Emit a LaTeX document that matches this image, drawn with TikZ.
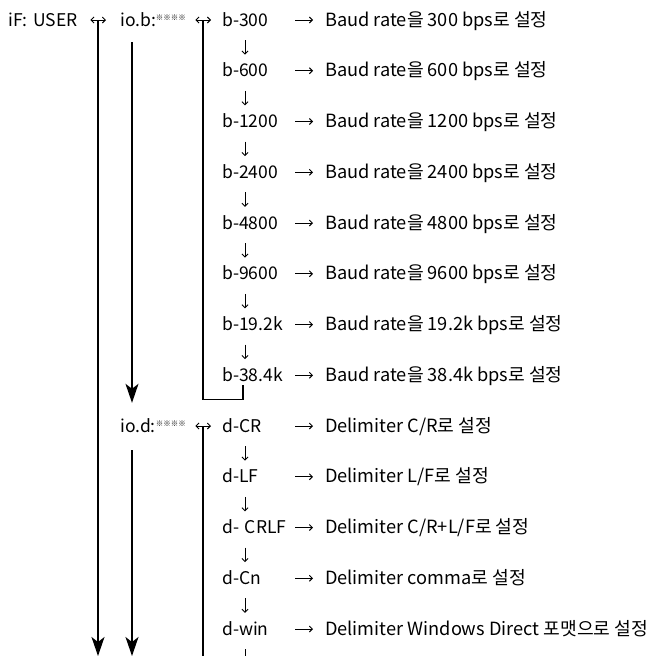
\documentclass[tikz,border=0pt]{standalone}
\usepackage{fontspec}
\setmainfont{Noto Sans CJK KR}
\usetikzlibrary{arrows.meta,calc}

\tikzset{
  lbl/.style={anchor=west, inner sep=0pt, text height=12pt, text depth=0pt,
              font=\fontsize{17.5}{20}\selectfont},
  code/.style={lbl, text width=68pt, align=left},
  head/.style={lbl, text width=62pt, align=left},
  desc/.style={lbl, font=\fontsize{18.2}{21}\selectfont},
  small/.style={line width=0.9pt, -{Straight Barb[length=3pt,width=6pt]}},
  dbl/.style={line width=0.9pt, {Straight Barb[length=3pt,width=6pt]}-{Straight Barb[length=3pt,width=6pt]}},
  trunk/.style={line width=1.3pt, -{Stealth[length=19pt,width=13pt,inset=5pt]}},
  loopline/.style={line width=1.3pt},
}
\newcommand{\refmarks}{\raisebox{6pt}{\fontsize{7.5}{8}\selectfont ※※※※}}

\begin{document}
\begin{tikzpicture}[x=1pt, y=-1pt]
  \clip (0,0) rectangle (657,656);

  % top level and the two sub-menu heads
  \node[lbl, text width=70pt, align=left] (user) at (8,20) {iF: USER};
  \node[head] (iob) at (120,20) {io.b:\refmarks};
  \node[head] (iod) at (120,{20+50.75*8}) {io.d:\refmarks};

  % baud rate entries
  \foreach \i/\cv/\rt in {0/300/300, 1/600/600, 2/1200/1200, 3/2400/2400,
                          4/4800/4800, 5/9600/9600, 6/19.2k/19.2k, 7/38.4k/38.4k} {
    \node[code] (b\i) at (222,{20+50.75*\i}) {b-\cv};
    \node[desc] (bd\i) at (325,{20+50.75*\i}) {Baud rate을 \rt\ bps로 설정};
    \draw[small, shorten <=5pt, shorten >=12pt] (b\i.east) -- (bd\i.west);
  }
  \foreach \i [evaluate=\i as \j using int(\i+1)] in {0,...,6}
    \draw[small, shorten <=14pt, shorten >=10pt]
      ([xshift=23pt]b\i.south west) -- ([xshift=23pt]b\j.north west);

  % delimiter entries
  \foreach \i/\cv/\dt in {0/d-CR/C\slash R, 1/d-LF/L\slash F,
                          2/d- CRLF/C\slash R+L\slash F, 3/d-Cn/comma,
                          4/d-win/Windows Direct 포맷으} {
    \node[code] (d\i) at (222,{20+50.75*(\i+8)}) {\cv};
    \node[desc] (dd\i) at (325,{20+50.75*(\i+8)}) {Delimiter \dt 로 설정};
    \draw[small, shorten <=5pt, shorten >=12pt] (d\i.east) -- (dd\i.west);
  }
  \foreach \i [evaluate=\i as \j using int(\i+1)] in {0,...,3}
    \draw[small, shorten <=14pt, shorten >=10pt]
      ([xshift=23pt]d\i.south west) -- ([xshift=23pt]d\j.north west);
  \coordinate (dnext) at (245,{20+50.75*13});
  \draw[small, shorten <=14pt] ([xshift=23pt]d4.south west) -- (dnext);

  % double arrows between levels
  \draw[dbl, shorten <=12pt, shorten >=14pt] (user.east) -- (iob.west);
  \draw[dbl, shorten <=13pt, shorten >=11pt] (iob.east) -- (b0.west);
  \draw[dbl, shorten <=13pt, shorten >=11pt] (iod.east) -- (d0.west);

  % junctions under the double arrows and ends of the trunks
  \coordinate (j1) at (98,20);
  \coordinate (j2) at (203,20);
  \coordinate (j3) at (203,{20+50.75*8});
  \coordinate (e1) at (98,656);
  \coordinate (e3) at (132,656);
  \coordinate (e4) at (203,656);

  % trunks
  \draw[trunk] (j1) -- (e1);
  \draw[trunk, shorten <=16pt, shorten >=17pt]
    ([xshift=12pt]iob.south west) -- ([xshift=12pt]iod.north west);
  \draw[trunk, shorten <=18pt] ([xshift=12pt]iod.south west) -- (e3);

  % wrap-around from the last baud entry back to the first
  \draw[loopline] ([xshift=21pt,yshift=-4pt]b7.south west) -- ++(0,14) -| (j2);
  \draw[loopline] (j3) -- (e4);
\end{tikzpicture}
\end{document}
